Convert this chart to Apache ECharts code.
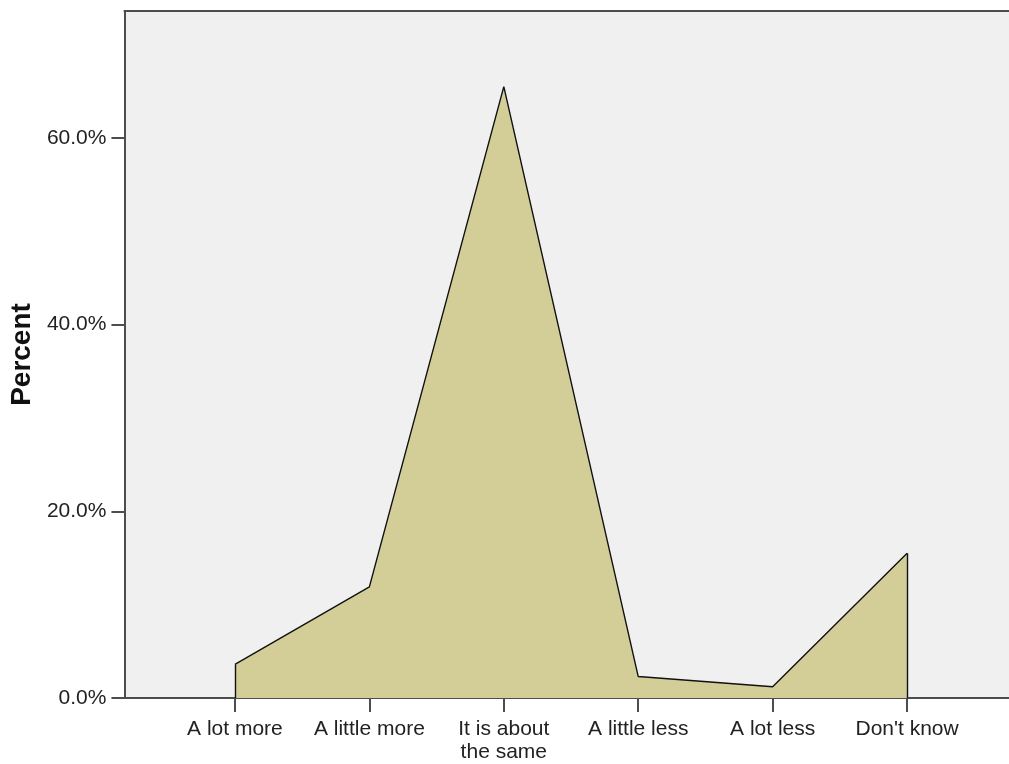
<!DOCTYPE html>
<html>
<head>
<meta charset="utf-8">
<script src="https://cdn.jsdelivr.net/npm/echarts@6/dist/echarts.min.js"></script>
<style>
html,body{margin:0;padding:0;background:#fff;}
#chart{width:1009px;height:764px;}
</style>
</head>
<body>
<div id="chart"></div>
<script>
var categories = ['A lot more', 'A little more', 'It is about\nthe same', 'A little less', 'A lot less', "Don't know"];
var percentValues = [3.6, 11.9, 65.5, 2.3, 1.2, 15.5];
var yTicks = [0, 20, 40, 60];

var chart = echarts.init(document.getElementById('chart'), null, {renderer: 'canvas'});
var catIdx = categories.map(function (c, i) { return i; });
var seriesData = percentValues.map(function (v, i) { return [i, v]; });
var last = percentValues.length - 1;
var axisColor = '#4d4d4d';

chart.setOption({
  animation: false,
  backgroundColor: '#ffffff',
  textStyle: {fontFamily: '"Liberation Sans", Arial, sans-serif'},
  grid: {
    left: 120, right: 0, top: 11, bottom: 64,
    show: true, backgroundColor: '#f0f0f0', borderWidth: 0
  },
  xAxis: [{
    type: 'value',
    min: -0.822, max: 5.758,
    splitLine: {show: false},
    axisLine: {show: true, onZero: false, lineStyle: {color: axisColor, width: 2}},
    axisTick: {show: true, inside: false, length: 14, customValues: catIdx, lineStyle: {color: axisColor, width: 2}},
    axisLabel: {
      customValues: catIdx, margin: 20, fontSize: 21, color: '#222', lineHeight: 23,
      formatter: function (v) { return categories[Math.round(v)]; }
    }
  }, {
    type: 'value',
    position: 'top',
    min: -0.822, max: 5.758,
    splitLine: {show: false},
    axisLine: {show: true, onZero: false, lineStyle: {color: axisColor, width: 2}},
    axisTick: {show: false},
    axisLabel: {show: false}
  }],
  yAxis: {
    type: 'value',
    min: 0, max: 73.6, interval: 20,
    name: 'Percent', nameLocation: 'middle', nameGap: 84,
    nameTextStyle: {fontSize: 28, fontWeight: 'bold', color: '#111'},
    splitLine: {show: false},
    axisLine: {show: true, onZero: false, lineStyle: {color: axisColor, width: 2}},
    axisTick: {show: true, length: 13, customValues: yTicks, lineStyle: {color: axisColor, width: 2}},
    axisLabel: {
      margin: 18, fontSize: 21, color: '#222',
      customValues: yTicks,
      formatter: function (v) { return v.toFixed(1) + '%'; }
    }
  },
  series: [{
    type: 'line',
    xAxisIndex: 0,
    data: seriesData,
    showSymbol: false,
    symbol: 'none',
    lineStyle: {color: '#111', width: 1.4},
    areaStyle: {color: '#d3ce98', opacity: 1},
    markLine: {
      silent: true, symbol: 'none', label: {show: false},
      lineStyle: {color: '#111', width: 1.4, type: 'solid'},
      data: [
        [{coord: [0, 0]}, {coord: [0, percentValues[0]]}],
        [{coord: [last, 0]}, {coord: [last, percentValues[last]]}]
      ]
    }
  }]
});
</script>
</body>
</html>
